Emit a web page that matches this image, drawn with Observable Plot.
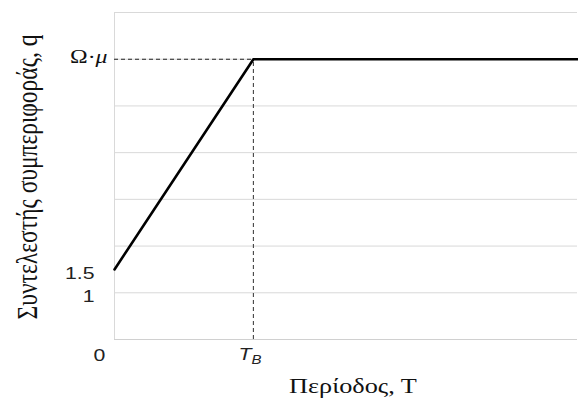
<!DOCTYPE html>
<html>
<head>
<meta charset="utf-8">
<script src="https://cdn.jsdelivr.net/npm/d3@7"></script>
<script src="https://cdn.jsdelivr.net/npm/@observablehq/plot@0.6"></script>
<style>
  html, body { margin: 0; padding: 0; background: #fff; }
</style>
</head>
<body>
<div id="chart"></div>
<script>
// Data
const periodT = [0, 3, 10];          // T: 0, T_B, end of axis
const qValues = [1.5, 6, 6];          // behaviour factor q
const tB = 3;                         // T_B position
const qMax = 6;                       // Ω·μ level
const gridValues = [1, 2, 3, 4, 5, 6, 7];
const yTickValues = [1, 1.5];
const yTickLabels = ["1", "1.5"];
const xTickValues = [3];
const xTickLabels = ["TB"];
const yTitle = "Συντελεστής συμπεριφοράς, q";
const xTitle = "Περίοδος, Τ";

const lineData = periodT.map((t, i) => ({t, q: qValues[i]}));
const yTicks = yTickValues.map((v, i) => ({v, label: yTickLabels[i]}));

const sans = "Arial, 'Liberation Sans', sans-serif";
const serif = "'Liberation Serif', 'Times New Roman', serif";

const chart = Plot.plot({
  width: 578,
  height: 407,
  marginLeft: 114,
  marginRight: 1,
  marginTop: 12,
  marginBottom: 68,
  x: {domain: [0, 10], axis: null},
  y: {domain: [0, 7], axis: null},
  style: {background: "#fff", overflow: "visible"},
  marks: [
    Plot.ruleY(gridValues, {stroke: "#d9d9d9", strokeWidth: 1}),
    Plot.ruleX([0], {stroke: "#d9d9d9", strokeWidth: 1}),
    Plot.ruleY([0], {stroke: "#d0d0d0", strokeWidth: 1}),
    Plot.ruleY([qMax], {x1: 0, x2: tB, stroke: "#222", strokeWidth: 1.1, strokeDasharray: "4,3"}),
    Plot.ruleX([tB], {y1: 0, y2: qMax, stroke: "#444", strokeWidth: 1.1, strokeDasharray: "4,3"}),
    Plot.line(lineData, {x: "t", y: "q", stroke: "#000", strokeWidth: 2.6}),
    Plot.text(yTicks, {x: 0, y: "v", text: "label", textAnchor: "end", dx: -20, dy: 4, fontSize: 17, fontFamily: sans, fill: "#222"}),
    Plot.text(["Ω·μ"], {x: 0, y: qMax, text: d => d, textAnchor: "end", dx: -7, dy: -2, fontSize: 19, fontFamily: serif, fill: "#111"}),
    Plot.text(["0"], {x: 0, y: 0, text: d => d, textAnchor: "middle", dx: -15, dy: 16, fontSize: 17, fontFamily: sans, fill: "#222"}),
    Plot.text(xTickValues.map((v, i) => ({v, label: xTickLabels[i]})), {x: "v", y: 0, text: "label", textAnchor: "start", dx: -15, dy: 15, fontSize: 17, fontFamily: sans, fill: "#222"}),
    Plot.text([yTitle], {frameAnchor: "left", text: d => d, rotate: -90, textAnchor: "middle", dx: -87, dy: 1, fontSize: 23.5, fontFamily: serif, fill: "#111"}),
    Plot.text([xTitle], {frameAnchor: "bottom", text: d => d, textAnchor: "middle", dx: 7, dy: 53, fontSize: 21, fontFamily: serif, fill: "#111"})
  ]
});

// Rich text formatting: italic μ, italic T with subscript B
d3.select(chart).selectAll("text").each(function() {
  const el = d3.select(this);
  const s = this.textContent;
  if (s === "Ω·μ") {
    el.text(null);
    el.append("tspan").text("Ω·");
    el.append("tspan").attr("font-style", "italic").text("μ");
  } else if (s === "TB") {
    el.text(null);
    el.append("tspan").attr("font-style", "italic").text("T");
    el.append("tspan").attr("font-style", "italic").attr("font-size", 12).attr("dy", "0.35em").text("B");
  }
});

// The reference's lettering is drawn horizontally wider than normal: stretch each text about its anchor
const SX = 1.25;
d3.select(chart).selectAll("text").each(function() {
  const t = this.getAttribute("transform");
  if (t && t.includes("rotate")) {
    this.setAttribute("transform", t + ` scale(1,${SX})`);
  } else if (t) {
    this.setAttribute("transform", t + ` scale(${SX},1)`);
  } else {
    const x = +this.getAttribute("x") || 0;
    this.setAttribute("transform", `translate(${x},0) scale(${SX},1) translate(${-x},0)`);
  }
});

document.getElementById("chart").appendChild(chart);
</script>
</body>
</html>
